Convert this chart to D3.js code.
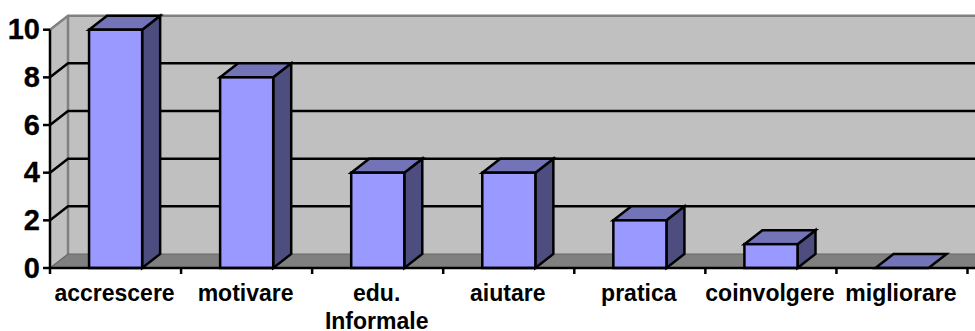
<!DOCTYPE html>
<html>
<head>
<meta charset="utf-8">
<script src="https://cdn.jsdelivr.net/npm/d3@7"></script>
<style>
  html, body { margin: 0; padding: 0; background: #fff; }
  svg { display: block; }
  text { font-family: "Liberation Sans", Arial, sans-serif; font-weight: bold; fill: #000; }
</style>
</head>
<body>
<svg id="chart" width="975" height="331"></svg>
<script>
// Column chart with an oblique 3D projection
const categories = ["accrescere", "motivare", "edu. Informale", "aiutare", "pratica", "coinvolgere", "migliorare"];
const values = [10, 8, 4, 4, 2, 1, 0];
const yTicks = [0, 2, 4, 6, 8, 10];

const width = 975, height = 331;
const depthX = 18, depthY = -14;

const x = d3.scaleBand().domain(categories).range([50, 967.5]).paddingInner(0).paddingOuter(0);
const y = d3.scaleLinear().domain([0, 10]).range([268, 29.7]);

const svg = d3.select("#chart");
const barOffset = x.bandwidth() * 0.298;
const barWidth = x.bandwidth() * 0.405;
const pts = a => a.map(p => p.join(",")).join(" ");

const x0 = x.range()[0];
const wallRight = width + 2;
const lineW = 2.5;

// Back wall
svg.append("polygon")
  .attr("points", pts([[x0 + depthX, y(10) + depthY], [wallRight, y(10) + depthY], [wallRight, y(0) + depthY], [x0 + depthX, y(0) + depthY]]))
  .attr("fill", "#c0c0c0");

// Side wall
svg.append("polygon")
  .attr("points", pts([[x0, y(10)], [x0 + depthX, y(10) + depthY], [x0 + depthX, y(0) + depthY], [x0, y(0)]]))
  .attr("fill", "#c0c0c0");

// Floor
svg.append("polygon")
  .attr("points", pts([[x0, y(0)], [x0 + depthX, y(0) + depthY], [wallRight, y(0) + depthY], [wallRight, y(0)]]))
  .attr("fill", "#808080");

// Wall outlines
svg.append("path")
  .attr("d", `M${x0},${y(10)}L${x0 + depthX},${y(10) + depthY}L${wallRight},${y(10) + depthY}M${x0 + depthX},${y(10) + depthY}V${y(0) + depthY}`)
  .attr("fill", "none").attr("stroke", "#808080").attr("stroke-width", lineW);

// Floor edges, slightly darker than the floor fill
svg.append("path")
  .attr("d", `M${x0},${y(0)}L${x0 + depthX},${y(0) + depthY}H${wallRight}`)
  .attr("fill", "none").attr("stroke", "#666666").attr("stroke-width", 1.2);

// Gridlines wrap from the front axis across the side and back walls
svg.append("g").selectAll("path")
  .data(yTicks.filter(t => t > 0 && t < 10))
  .join("path")
  .attr("d", t => `M${x0},${y(t)}L${x0 + depthX},${y(t) + depthY}H${wallRight}`)
  .attr("fill", "none").attr("stroke", "#000").attr("stroke-width", lineW);

// Bars
const bars = svg.append("g").selectAll("g")
  .data(categories.map((c, i) => ({ c, v: values[i] })))
  .join("g")
  .attr("stroke", "#000").attr("stroke-width", lineW).attr("stroke-linejoin", "miter");

const left = d => x(d.c) + barOffset;
const right = d => left(d) + barWidth;

bars.filter(d => d.v > 0).append("polygon")
  .attr("points", d => pts([[right(d), y(d.v)], [right(d) + depthX, y(d.v) + depthY], [right(d) + depthX, y(0) + depthY], [right(d), y(0)]]))
  .attr("fill", "#4d4d80");

bars.append("polygon")
  .attr("points", d => pts([[left(d), y(d.v)], [left(d) + depthX, y(d.v) + depthY], [right(d) + depthX, y(d.v) + depthY], [right(d), y(d.v)]]))
  .attr("fill", "#7373b8");

bars.filter(d => d.v > 0).append("rect")
  .attr("x", left).attr("y", d => y(d.v))
  .attr("width", barWidth).attr("height", d => y(0) - y(d.v))
  .attr("fill", "#9999ff");

// Front axes
const axisG = svg.append("g").attr("stroke", "#000").attr("stroke-width", lineW).attr("fill", "none");
axisG.append("path").attr("d", `M${x0},${y(10)}V${y(0)}H${wallRight}`);
axisG.selectAll(".ytick").data(yTicks).join("path").attr("class", "ytick")
  .attr("d", t => `M${x0 - 7},${y(t)}H${x0}`);
const xEdges = categories.map(c => x(c)).concat([x.range()[1]]);
axisG.selectAll(".xtick").data(xEdges).join("path").attr("class", "xtick")
  .attr("d", e => `M${e},${y(0)}v6`);

// Value labels
svg.append("g").selectAll("text").data(yTicks).join("text")
  .attr("x", x0 - 10).attr("y", t => y(t)).attr("dy", "0.33em")
  .attr("text-anchor", "end").attr("font-size", 29)
  .attr("stroke", "#000").attr("stroke-width", 0.3)
  .text(t => t);

// Category labels, wrapped on spaces
const catLabels = svg.append("g").selectAll("text")
  .data(categories).join("text")
  .attr("text-anchor", "middle").attr("font-size", 23)
  .attr("y", 300.5);
catLabels.each(function (c) {
  const t = d3.select(this);
  c.split(" ").forEach((w, i) => {
    t.append("tspan").attr("x", x(c) + x.bandwidth() / 2 - 1).attr("dy", i ? 28.5 : 0).text(w);
  });
});
</script>
</body>
</html>
